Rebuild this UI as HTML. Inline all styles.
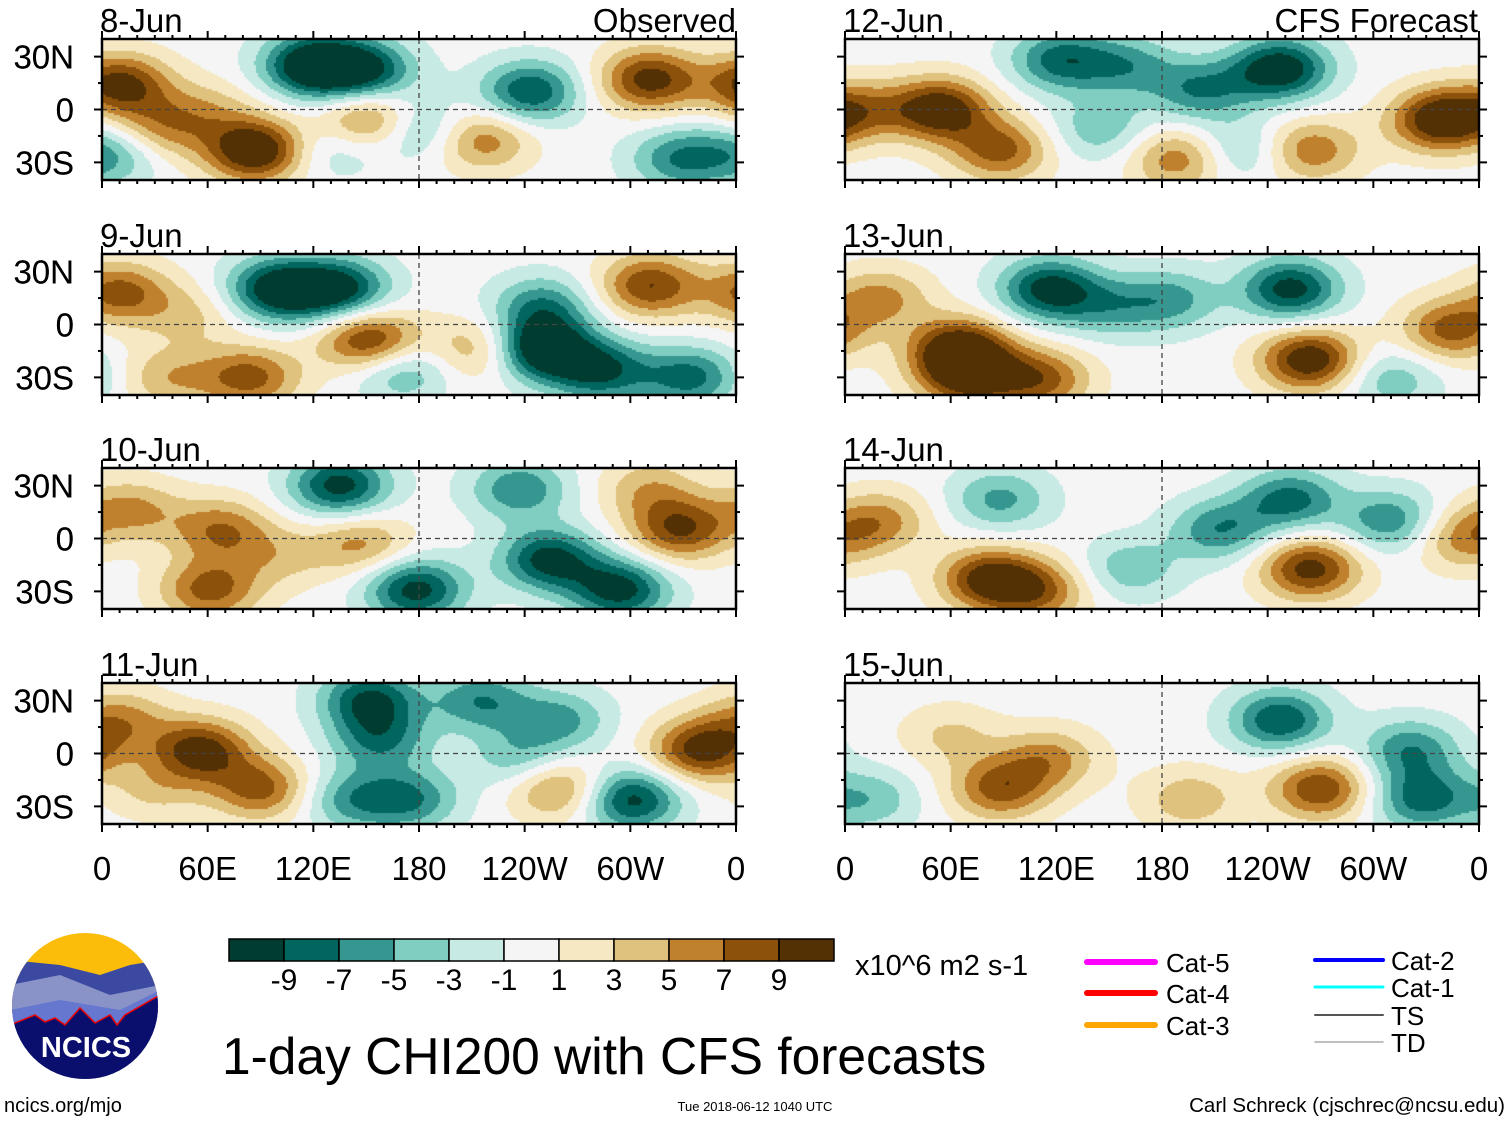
<!DOCTYPE html>
<html><head><meta charset="utf-8"><style>
body{margin:0;background:#fff;width:1510px;height:1121px;overflow:hidden;position:relative;font-family:"Liberation Sans",sans-serif}
canvas{position:absolute}
svg{position:absolute;left:0;top:0}
</style></head><body>
<div id="maps"></div>
<svg id="ov" width="1510" height="1121"></svg>
<script>
// ---- data ----
const panelTitles = ["8-Jun","9-Jun","10-Jun","11-Jun","12-Jun","13-Jun","14-Jun","15-Jun"];
const xTickLabels = ["0","60E","120E","180","120W","60W","0"];
const xTickLons = [0,60,120,180,240,300,360];
const yTickLabels = ["30N","0","30S"];
const yTickLats = [30,0,-30];
const levels = [-9,-7,-5,-3,-1,1,3,5,7,9];
const colors = ["#003c30","#01665e","#35978f","#80cdc1","#c7eae5","#f5f5f5","#f6e8c3","#dfc27d","#bf812d","#8c510a","#543005"];
// anomaly centres per panel: [lon, lat, value]
const anom8 = [[10,14,9],[120,25,-11],[150,22,-8],[87,-23,11],[152,-6,7],[243,10,-8],[215,-17,6],[311,17,9],[180,-11,-5],[328,-28,-6],[5,-25,-5],[33,-11,5],[130,-22,-3],[60,0,3]];
const anom9 = [[100,20,-10],[135,20,-9],[152,-9,9],[249,-14,-11],[250,10,-6],[311,22,8],[10,18,7],[84,-30,7],[283,-26,-8],[334,-30,-7],[215,-14,5],[38,-30,4],[170,-26,-5],[50,5,3]];
const anom10 = [[135,30,-9],[67,5,6],[16,16,5],[61,-29,7],[178,-29,-9],[254,-12,-9],[294,-29,-9],[328,5,8],[147,-3,5],[237,28,-6],[311,28,4],[100,-10,3]];
const anom11 = [[152,31,-8],[56,2,9],[90,-20,7],[10,19,5],[158,8,-6],[215,30,-6],[175,-26,-6],[300,-26,-9],[340,2,9],[260,-20,6],[237,-3,-4],[260,19,-5],[141,-26,-5],[30,-20,3]];
const anom12 = [[54,0,10],[88,-23,7],[122,28,-7],[247,23,-10],[202,11,-6],[338,-6,10],[264,-23,6],[190,-28,6],[8,0,5],[145,-11,-4],[224,-23,-4],[160,25,-5]];
const anom13 = [[65,-14,10],[70,-30,8],[116,20,-9],[253,20,-9],[264,-20,10],[344,-3,7],[20,15,5],[111,-31,7],[185,14,-5],[310,-31,-4],[150,10,-4]];
const anom14 = [[82,-23,9],[264,-17,9],[253,22,-7],[88,22,-5],[310,10,-6],[20,10,5],[213,5,-6],[350,0,5],[162,-17,-4],[110,-30,6]];
const anom15 = [[88,-20,7],[247,19,-8],[270,-20,8],[327,-26,-7],[321,2,-6],[116,-3,5],[14,-26,-4],[196,-26,4],[60,10,3]];
const panelData = [anom8,anom9,anom10,anom11,anom12,anom13,anom14,anom15];
const legendNames = ["Cat-5","Cat-4","Cat-3","Cat-2","Cat-1","TS","TD"];

// ---- layout ----
const colX=[102,845], PW=634, PH=141, rowY=[39,254,468,683];
const NS="http://www.w3.org/2000/svg";
const ov=document.getElementById('ov');
function el(tag,attrs,parent){const e=document.createElementNS(NS,tag);for(const k in attrs)e.setAttribute(k,attrs[k]);(parent||ov).appendChild(e);return e;}
function colorFor(v){let i=0;while(i<levels.length&&v>=levels[i])i++;return colors[i];}

panelData.forEach((blobs,p)=>{
  const x0=colX[p<4?0:1], y0=rowY[p%4];
  const xs=lon=>x0+lon/360*PW, ys=lat=>y0+PH/2-lat/40*(PH/2);
  const cv=document.createElement('canvas');
  cv.width=PW;cv.height=PH;cv.style.left=x0+'px';cv.style.top=y0+'px';
  
  
  document.getElementById('maps').appendChild(cv);
  const c=cv.getContext('2d');
  const cs=2;
  for(let py=0;py<PH;py+=cs){for(let px=0;px<PW;px+=cs){
    const lon=(px+cs/2)/PW*360, lat=40-(py+cs/2)/PH*80;
    let v=0;
    for(const b of blobs){let dl=lon-b[0];if(dl>180)dl-=360;if(dl<-180)dl+=360;const dt=lat-b[1];
      v+=1.12*b[2]*Math.exp(-(dl*dl)/(2*20*20)-(dt*dt)/(2*12.5*12.5));}
    c.fillStyle=colorFor(v);c.fillRect(px,py,cs,cs);
  }}
  const g=el('g',{});
  
  
  el('line',{x1:x0,x2:x0+PW,y1:ys(0),y2:ys(0),stroke:'#444','stroke-width':1.3,'stroke-dasharray':'5,4'},g);
  el('line',{x1:xs(180),x2:xs(180),y1:y0,y2:y0+PH,stroke:'#444','stroke-width':1.3,'stroke-dasharray':'5,4'},g);
  el('rect',{x:x0,y:y0,width:PW,height:PH,fill:'none',stroke:'#000','stroke-width':2.5},g);
  for(let l=0;l<=360;l+=10){const t=l%60==0?8:4;
    el('line',{x1:xs(l),x2:xs(l),y1:y0,y2:y0-t,stroke:'#000','stroke-width':2},g);
    el('line',{x1:xs(l),x2:xs(l),y1:y0+PH,y2:y0+PH+t,stroke:'#000','stroke-width':2},g);}
  for(let la=-30;la<=30;la+=15){const t=la%30==0?8:4;
    el('line',{x1:x0,x2:x0-t,y1:ys(la),y2:ys(la),stroke:'#000','stroke-width':2},g);
    el('line',{x1:x0+PW,x2:x0+PW+t,y1:ys(la),y2:ys(la),stroke:'#000','stroke-width':2},g);}
  const tt=el('text',{x:x0-2,y:y0-7,'font-size':33},g);tt.textContent=panelTitles[p];
  
  
  yTickLabels.forEach((s,i)=>{const t=el('text',{x:74,y:ys(yTickLats[i])+12,'font-size':33,'text-anchor':'end'},g);t.textContent=s;
    
    });
  if(p%4==3){xTickLabels.forEach((s,i)=>{const t=el('text',{x:xs(xTickLons[i]),y:880,'font-size':33,'text-anchor':'middle'},g);t.textContent=s;
    
    });}
});
function txt(s,a,name){const t=el('text',a);t.textContent=s;return t;}
txt("Observed",{x:736,y:32,'font-size':33,'text-anchor':'end'},'observed-label');
txt("CFS Forecast",{x:1478,y:32,'font-size':33,'text-anchor':'end'},'forecast-label');
// colorbar
const cb=el('g',{});
colors.forEach((col,i)=>{el('rect',{x:229+i*55,y:939,width:55,height:22,fill:col,stroke:'#000','stroke-width':1.5},cb);});
levels.forEach((l,i)=>{const t=el('text',{x:284+i*55,y:990,'font-size':30,'text-anchor':'middle'},cb);t.textContent=l;});
txt("x10^6 m2 s-1",{x:855,y:975,'font-size':29},'units-label');
txt("1-day CHI200 with CFS forecasts",{x:222,y:1074,'font-size':51.5},'chart-title');
txt("ncics.org/mjo",{x:4,y:1112,'font-size':20},'site-url');
txt("Tue 2018-06-12 1040 UTC",{x:755,y:1111,'font-size':13,'text-anchor':'middle'},'timestamp');
txt("Carl Schreck (cjschrec@ncsu.edu)",{x:1505,y:1112,'font-size':20.5,'text-anchor':'end'},'author');
// legend
const lg=[[1087,962,'#ff00ff',6,'none'],[1087,993,'#ff0000',6,'none'],[1087,1025,'#ffa500',6,'3,2'],[1315,960,'#0000ff',4,'none'],[1315,987,'#00ffff',3,'none'],[1315,1015,'#555',2,'none'],[1315,1042,'#aaa',1.5,'none']];
lg.forEach((d,i)=>{const g=el('g',{});
  el('line',{x1:d[0],x2:d[0]+68,y1:d[1],y2:d[1],stroke:d[2],'stroke-width':d[3],'stroke-dasharray':d[4],'stroke-linecap':'round'},g);
  const t=el('text',{x:d[0]+(i<3?79:76),y:d[1]+10,'font-size':26},g);t.textContent=legendNames[i];});
// logo
const lo=el('g',{});
el('clipPath',{id:'cl'},lo);el('circle',{cx:85,cy:1006,r:73},document.getElementById('cl'));
const lc=el('g',{'clip-path':'url(#cl)'},lo);
el('rect',{x:10,y:930,width:150,height:160,fill:'#fbbd0a'},lc);
el('path',{d:'M10 960 L60 965 L100 975 L130 965 L160 960 L160 1090 L10 1090Z',fill:'#3b4aa0'},lc);
el('path',{d:'M10 985 L60 975 L110 995 L160 985 L160 1090 L10 1090Z',fill:'#8a93c8'},lc);
el('path',{d:'M10 1010 L60 1000 L120 1010 L160 990 L160 1090 L10 1090Z',fill:'#6677d0'},lc);
el('path',{d:'M10 1025 L35 1015 L45 1022 L55 1018 L65 1025 L80 1008 L95 1023 L110 1015 L117 1025 L125 1015 L160 995 L160 1090 L10 1090Z',fill:'#0a0f6e',stroke:'#e00','stroke-width':1.5},lc);
const nt=el('text',{x:86,y:1057,'font-size':29,'font-weight':'bold',fill:'#fff','text-anchor':'middle'},lo);nt.textContent="NCICS";
</script>
</body></html>
